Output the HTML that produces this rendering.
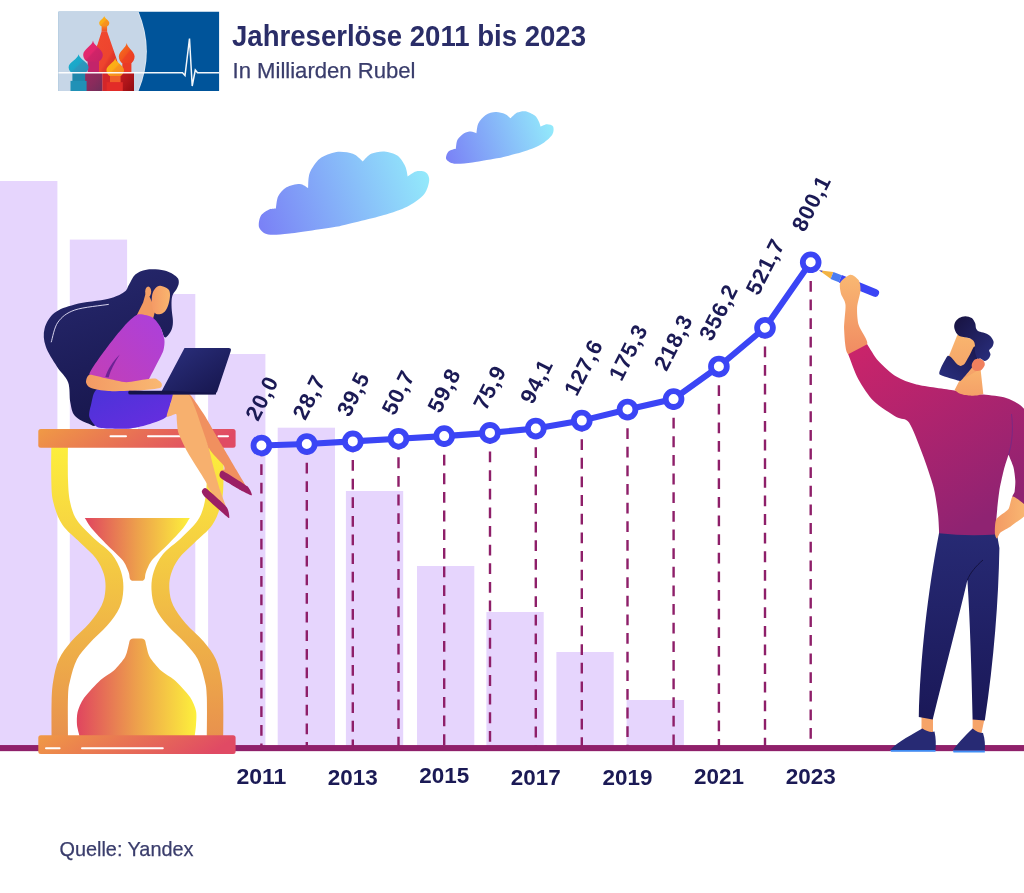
<!DOCTYPE html>
<html lang="de"><head><meta charset="utf-8"><title>Jahreserlöse 2011 bis 2023</title>
<style>
html,body{margin:0;padding:0;background:#fff}
body{width:1024px;height:893px;overflow:hidden;font-family:"Liberation Sans",sans-serif}
svg{display:block}
text{font-family:"Liberation Sans",sans-serif}
</style></head><body>
<svg width="1024" height="893" viewBox="0 0 1024 893">
<defs>
<linearGradient id="gCloud1" gradientUnits="userSpaceOnUse" x1="262" y1="228" x2="428" y2="172"><stop offset="0" stop-color="#7a82f6"/><stop offset="1" stop-color="#93eafb"/></linearGradient>
<linearGradient id="gCloud2" gradientUnits="userSpaceOnUse" x1="447" y1="160" x2="552" y2="124"><stop offset="0" stop-color="#7a82f6"/><stop offset="1" stop-color="#93eafb"/></linearGradient>
<linearGradient id="gGlass" x1="0" y1="0" x2="0" y2="1"><stop offset="0" stop-color="#fdf03c"/><stop offset="0.5" stop-color="#f2c244"/><stop offset="1" stop-color="#e8904e"/></linearGradient>
<linearGradient id="gSand" x1="0" y1="0" x2="1" y2="0"><stop offset="0" stop-color="#e0455f"/><stop offset="0.5" stop-color="#eda04c"/><stop offset="1" stop-color="#fdf03c"/></linearGradient>
<linearGradient id="gPlate" x1="0" y1="0" x2="1" y2="0.15"><stop offset="0" stop-color="#f09a45"/><stop offset="1" stop-color="#e04a64"/></linearGradient>
<linearGradient id="gHair" x1="0" y1="0" x2="0.3" y2="1"><stop offset="0" stop-color="#27296f"/><stop offset="1" stop-color="#18174e"/></linearGradient>
<linearGradient id="gTop" x1="0" y1="1" x2="1" y2="0"><stop offset="0" stop-color="#c43fb4"/><stop offset="1" stop-color="#ab40dc"/></linearGradient>
<linearGradient id="gSkirt" x1="0" y1="0" x2="1" y2="1"><stop offset="0" stop-color="#4a33d8"/><stop offset="1" stop-color="#6a2de0"/></linearGradient>
<linearGradient id="gSkin" x1="0" y1="0" x2="0" y2="1"><stop offset="0" stop-color="#f9b872"/><stop offset="1" stop-color="#f08b62"/></linearGradient>
<linearGradient id="gSkinH" x1="0" y1="0" x2="1" y2="0"><stop offset="0" stop-color="#f39a64"/><stop offset="1" stop-color="#f9b872"/></linearGradient>
<linearGradient id="gFace" x1="0" y1="0" x2="1" y2="0"><stop offset="0" stop-color="#f59a66"/><stop offset="1" stop-color="#f9b56e"/></linearGradient>
<linearGradient id="gFaceM" x1="0" y1="0" x2="0" y2="1"><stop offset="0" stop-color="#f9b56e"/><stop offset="1" stop-color="#f4a068"/></linearGradient>
<linearGradient id="gLaptop" x1="0" y1="0" x2="1" y2="1"><stop offset="0" stop-color="#2c3180"/><stop offset="1" stop-color="#15144a"/></linearGradient>
<linearGradient id="gShirt" x1="0" y1="0" x2="0.6" y2="1"><stop offset="0" stop-color="#cc246a"/><stop offset="1" stop-color="#8f2372"/></linearGradient>
<linearGradient id="gPants" x1="0" y1="0" x2="0" y2="1"><stop offset="0" stop-color="#272a74"/><stop offset="1" stop-color="#1a1858"/></linearGradient>
<linearGradient id="gBeard" x1="0" y1="1" x2="1" y2="0"><stop offset="0" stop-color="#2a2f80"/><stop offset="1" stop-color="#1a184f"/></linearGradient>
<linearGradient id="gMHair" x1="0" y1="0" x2="1" y2="1"><stop offset="0" stop-color="#17123f"/><stop offset="1" stop-color="#2a2f80"/></linearGradient>
<clipPath id="logoClip"><rect x="58.3" y="11.5" width="161" height="79.6"/></clipPath>
</defs>
<rect width="1024" height="893" fill="#fff"/>
<rect x="0" y="181" width="57.4" height="567" fill="#e6d5fd"/>
<rect x="69.8" y="239.6" width="57.3" height="508.4" fill="#e6d5fd"/>
<rect x="138" y="294" width="57.3" height="454" fill="#e6d5fd"/>
<rect x="208.1" y="354" width="57.3" height="394" fill="#e6d5fd"/>
<rect x="277.7" y="427.7" width="57.3" height="320.3" fill="#e6d5fd"/>
<rect x="345.9" y="491" width="57.3" height="257" fill="#e6d5fd"/>
<rect x="417" y="566" width="57.3" height="182" fill="#e6d5fd"/>
<rect x="486.4" y="612" width="57.3" height="136" fill="#e6d5fd"/>
<rect x="556.4" y="652" width="57.3" height="96" fill="#e6d5fd"/>
<rect x="626.6" y="700" width="57.3" height="48" fill="#e6d5fd"/>
<path d="M339.6 226.2C332.1 227.3 300.5 232.2 289.8 233.5C279.1 234.7 272.8 235.3 268.2 234.5C263.6 233.6 260.4 230.6 259.3 227.8C258.1 225.1 259.2 218.9 260.6 216.2C261.9 213.5 265.9 211 268.2 209.9C270.5 208.7 274.7 208.8 275.9 208.6C276.2 206.7 276.6 199.5 278.2 196.3C279.8 193.1 283.2 189.2 286.5 187.3C289.7 185.5 296.5 183.9 299.8 184C303 184.1 306.8 187.4 308.1 188C308.3 185.7 308 177.4 309.7 173C311.5 168.7 315.7 161.9 319.7 158.8C323.7 155.6 331.3 152.9 336.3 152.1C341.3 151.4 348.9 152.4 352.9 153.8C356.9 155.2 361.3 160.3 362.8 161.4C364.1 160.3 367.9 155.3 371.1 153.8C374.4 152.3 380.4 151.2 384.4 151.5C388.4 151.8 394.6 153.5 397.7 155.8C400.8 158 403.8 163.3 405.3 166.4C406.8 169.5 407.3 174.9 407.7 176.4C408.9 175.6 413.2 172 416 171.4C418.7 170.8 423.9 171 425.9 172.4C427.9 173.7 429.5 177.1 429.2 180.3C429 183.6 427.3 190.2 424.3 194C421.3 197.7 415 202.5 409.3 205.6C403.6 208.7 396.5 211.5 386.1 214.5C375.6 217.6 346.6 224.4 339.6 226.2Z" fill="url(#gCloud1)"/>
<path d="M499 158.1C495 158.7 479.1 161.6 472.4 162.4C465.7 163.3 458.1 164.2 454.1 163.7C450.2 163.2 447 160.9 446.2 159.1C445.3 157.3 447.1 153 448.5 151.5C449.9 149.9 454.7 149.2 455.8 148.8C456.1 147.5 456.2 142.2 457.5 139.8C458.7 137.5 462.1 134.4 464.1 133.2C466.1 132 468.9 131.5 470.7 131.5C472.6 131.5 475.5 133 476.4 133.2C476.7 131.7 477 126 478.4 123.2C479.8 120.5 483.1 116.6 485.7 114.9C488.3 113.2 492.8 112.1 495.6 112C498.5 111.8 502.7 113 504.9 113.9C507.2 114.9 509.7 117.6 510.6 118.3C511.6 117.4 515 113.7 517.2 112.6C519.5 111.6 522.9 110.8 525.5 111.3C528.2 111.7 532.8 114.1 534.8 115.6C536.8 117.1 538 119.9 538.8 121.6C539.7 123.2 540.2 125.8 540.5 126.6C541.5 126.2 545.2 124.2 547.1 124.2C549 124.2 552.3 125 553.1 126.6C553.8 128.2 554 132.1 552.1 134.9C550.2 137.6 544.9 142.2 540.5 144.8C536 147.4 528.4 150.1 522.2 152.1C516 154.1 502.5 157.2 499 158.1Z" fill="url(#gCloud2)"/>
<rect x="0" y="745.05" width="1024" height="6.1" fill="#8f206a"/>
<path d="M51.4 440C51.4 446.7 51 469.6 51.3 480C51.6 490.4 51.5 494.9 53.4 502.4C55.2 509.9 57.9 518.1 62.4 524.8C66.9 531.5 74.7 537.1 80.3 542.7C85.9 548.3 92.1 553.2 96 558.4C99.9 563.6 102.2 568.9 103.8 574.1C105.4 579.3 105.8 584.5 105.4 589.7C105 594.9 104.3 599.8 101.6 605.4C98.9 611 94.3 617.3 89.3 623.3C84.3 629.3 76.5 635.3 71.4 641.3C66.4 647.3 62 652.8 59 659.2C56 665.7 54.6 673 53.4 680C52.2 687 51.9 691.2 51.6 701.2C51.3 711.2 51.6 733.5 51.6 740L223.2 740C223.2 733.5 223.5 711.2 223.2 701.2C222.9 691.2 222.6 687 221.4 680C220.2 673 218.8 665.7 215.8 659.2C212.8 652.8 208.5 647.3 203.4 641.3C198.3 635.3 190.5 629.3 185.5 623.3C180.5 617.3 175.9 611 173.2 605.4C170.5 599.8 169.8 594.9 169.4 589.7C169 584.5 169.4 579.3 171 574.1C172.6 568.9 174.9 563.6 178.8 558.4C182.7 553.2 188.9 548.3 194.5 542.7C200.1 537.1 207.9 531.5 212.4 524.8C216.9 518.1 219.6 509.9 221.4 502.4C223.2 494.9 223.2 490.4 223.5 480C223.8 469.6 223.4 446.7 223.4 440Z" fill="url(#gGlass)"/>
<path d="M68 440C68 446.7 67.6 469.6 68 480C68.4 490.4 68.7 495.7 70.2 502.4C71.7 509.1 73.1 514.3 77 520.3C80.9 526.3 88 532.6 93.8 538.2C99.6 543.8 107.2 548.3 111.7 553.9C116.2 559.5 119.2 565.8 121.1 571.8C123 577.8 123.6 583.7 123.3 589.7C123 595.7 122.2 601.7 119.5 607.7C116.8 613.7 112.2 619.6 107.2 625.6C102.2 631.6 94.3 637.9 89.3 643.5C84.3 649.1 80.2 653.1 77 659.2C73.8 665.3 71.7 673.7 70.2 680C68.7 686.3 68.4 687 68 697C67.6 707 68 732.8 68 740L206.8 740C206.8 732.8 207.2 707 206.8 697C206.4 687 206.1 686.3 204.6 680C203.1 673.7 201 665.3 197.8 659.2C194.6 653.1 190.5 649.1 185.5 643.5C180.5 637.9 172.6 631.6 167.6 625.6C162.6 619.6 158 613.7 155.3 607.7C152.6 601.7 151.8 595.7 151.5 589.7C151.2 583.7 151.8 577.8 153.7 571.8C155.6 565.8 158.6 559.5 163.1 553.9C167.7 548.3 175.2 543.8 181 538.2C186.8 532.6 193.9 526.3 197.8 520.3C201.7 514.3 203.1 509.1 204.6 502.4C206.1 495.7 206.4 490.4 206.8 480C207.2 469.6 206.8 446.7 206.8 440Z" fill="#fff"/>
<path d="M84.8 518.1C85.7 519.4 88.5 524.6 91.5 528.2C94.5 531.8 103 540.7 107.2 545C111.4 549.3 120.1 557 122.9 560.6C125.7 564.2 127.6 569.6 128.5 571.8C129.4 574 129.5 576.7 129.6 577.4Q130 580.8 133.5 580.8L141.2 580.8Q144.6 580.8 145 577.4C145.1 576.7 145.2 574 146.1 571.8C147 569.6 148.9 564.2 151.7 560.6C154.5 557 163.2 549.3 167.4 545C171.6 540.7 180.1 531.8 183.1 528.2C186.1 524.6 188.9 519.4 189.8 518.1Z" fill="url(#gSand)"/>
<path d="M79.8 737C79.4 735.4 77.3 728.3 77 725C76.7 721.7 76.7 715.6 77.6 712C78.5 708.4 80.9 702.3 84 698C87.1 693.7 96.5 683.7 100.5 680C104.5 676.3 110.6 673.5 113.9 670.4C117.2 667.3 123.2 660.2 125.1 656.9C127 653.6 127.9 647.7 128.5 645.7C129.1 643.7 129.2 642.5 129.3 642Q129.8 638.4 133.5 638.4L141.3 638.4Q145 638.4 145.5 642C145.6 642.5 145.7 643.7 146.3 645.7C146.9 647.7 147.8 653.6 149.7 656.9C151.6 660.2 157.6 667.3 160.9 670.4C164.2 673.5 170.5 676.5 174.4 680C178.3 683.5 187.1 692.9 190 697C192.9 701.1 195.2 707.3 196 711C196.8 714.7 196.2 721.5 196 725C195.8 728.5 194.8 735.4 194.6 737Z" fill="url(#gSand)"/>
<rect x="38.3" y="428.9" width="197.3" height="18.8" rx="2.5" fill="url(#gPlate)"/>
<path d="M110.5 436.3H126M148 436.3H182M218.5 436.3H228" stroke="#fff" stroke-width="2" stroke-linecap="round"/>
<rect x="38.3" y="735.2" width="197.3" height="18.8" rx="2.5" fill="url(#gPlate)"/>
<path d="M46 748.2H59.6M82 748.2H162.8" stroke="#fff" stroke-width="2" stroke-linecap="round"/>
<path d="M135.3 274.6C138.2 272.1 141.6 270.4 146.5 269.7C151.4 269 159.4 269.4 164.4 270.6C169.5 271.8 174.4 274.9 176.7 276.9C179.1 278.9 178.8 280.7 178.8 282.7C178.7 284.8 177.5 287.3 176.5 289.2C175.5 291.1 173.8 292.5 172.9 294.4C172.1 296.2 171.8 297.7 171.6 300.4C171.4 303.1 171.6 307.1 171.8 310.5C172 313.8 172.9 317.6 172.9 320.6C173 323.6 172.8 326.1 172 328.4C171.3 330.8 169.7 333.2 168.5 334.7C167.2 336.1 165.8 338.4 164.4 337.1C163 335.9 162.2 329.5 159.9 327.3C157.7 325.1 155.8 321.1 151 323.9C146.1 326.7 138.7 334 130.8 344.1C123 354.2 109.5 371.4 103.9 384.4C98.3 397.5 99.8 416 97.2 422.5C94.6 429 92 424.7 88.2 423.6C84.5 422.5 77.8 419.3 74.8 415.8C71.8 412.2 71.4 407.9 70.3 402.3C69.2 396.7 70.3 388.2 68.1 382.2C65.8 376.2 60.6 372.5 56.9 366.5C53.2 360.5 47.7 352.7 45.7 346.3C43.6 340 43.1 334 44.6 328.4C46.1 322.8 49.6 316.7 54.6 312.7C59.7 308.7 65.8 306.8 74.8 304.4C83.8 302.1 100.2 300.9 108.4 298.8C116.6 296.8 120.7 294.5 124.1 292.1C127.5 289.8 127.2 287.6 129 284.7C130.9 281.8 132.4 277.1 135.3 274.6Z" fill="url(#gHair)"/>
<path d="M108.4 304.4C102.8 305.4 83.2 307.1 74.8 310C66.4 313 61.9 316.8 58 322.1C54.1 327.4 52.4 338.6 51.3 341.9" fill="none" stroke="#e9e4fa" stroke-width="0.9" stroke-linecap="round"/>
<path d="M146.5 290.3L143.1 302.6L136.4 316.1L153.2 318.3L155.5 309.4Z" fill="#f29a62"/>
<ellipse cx="148.2" cy="291.6" rx="3" ry="5.2" fill="#f4a066"/>
<path d="M155.4 288.2C156.8 286.8 158.2 285.5 160.4 285.7C162.6 285.9 166.7 287.6 168.3 289.2C169.9 290.8 170 292.8 170 295.3C170 297.8 169.3 301.6 168.5 304.3C167.7 307 166.4 309.8 164.9 311.4C163.4 313 161.2 314 159.4 314.2C157.6 314.4 155.6 314 154.3 312.4C153 310.8 152.1 307.3 151.8 304.3C151.5 301.3 151.7 297 152.3 294.3C152.9 291.6 154.1 289.6 155.4 288.2Z" fill="url(#gFace)"/>
<path d="M98 388.5C103.2 386.5 119.9 389.2 130 390C140.1 390.8 168.5 392.9 174 394.5C179.5 396.1 172 399.1 171 402C170 404.9 169.6 413.6 166.8 416.5C164 419.4 154.8 422.4 150 424C145.2 425.6 136.1 427.8 130.8 428.4C125.5 429 114.5 428.7 110 428.5C105.5 428.3 99.9 428.5 97.2 427C94.5 425.5 90.2 419.9 89.4 417C88.6 414.1 89.9 408.8 91 405C92.1 401.2 92.8 390.5 98 388.5Z" fill="url(#gSkirt)"/>
<path d="M186 393C186.5 393.3 189.3 393.7 191.2 396C193.1 398.3 201.8 410.8 204.8 415.7C207.8 420.6 218.2 439.1 221.4 444.5C224.6 449.9 234.2 466.1 236.6 470.2C239 474.3 244.1 482.9 245.6 485.3C247.1 487.7 251.1 493.5 251.7 494.4L240 488C238.1 486.4 223 473.6 221.4 471.7C219.8 469.8 224.3 470 224.5 469.4C224.7 468.8 224.6 466.9 223.7 465.6C222.8 464.3 216.9 458.4 215.4 456.6C213.9 454.8 210.3 451.2 208.6 447.5C206.9 443.8 199.1 422.8 198 420Z" fill="#f0905f"/>
<path d="M219.6 474C219.8 473.2 220.2 469.7 222.9 470.9C225.7 472.1 244.2 483.7 247.1 486.1C250 488.5 252.3 494.8 251.9 495.3C251.5 495.8 245.7 493 242.6 491.3C239.5 489.6 223.7 480.2 221.4 478.5C219.1 476.8 219.4 474.8 219.6 474Z" fill="#9b1f64"/>
<path d="M173 394C174.5 394 185.9 392.4 188.2 394C190.5 395.6 194.3 406.2 195.7 409.7C197.1 413.2 201.2 425.5 202.5 429.3C203.8 433.1 207.5 443.6 208.6 447.5C209.7 451.4 212.8 464.5 213.9 468.7C215 472.9 218.7 486 219.9 489.8C221.1 493.6 225.4 504.8 226 506.5L215 497C214.3 496 208.6 488.1 207.8 486.8C207 485.5 208 485.5 207.1 483.8C206.2 482.1 200.8 473.5 198.7 470.2C196.6 466.9 188.6 454.3 186.6 450.5C184.6 446.7 179.3 435.4 178.3 432.4C177.3 429.4 177 422.1 176.8 420.3C176.6 418.5 177 414.4 176 414C175 413.6 167.3 417.7 166.8 416.5C166.3 415.3 170.6 403.3 171 401.8Z" fill="#f7b06e"/>
<path d="M201.8 491.3C201.8 490.5 203.5 488.5 204 488.3C204.5 488.1 204.8 487.2 207.1 489.1C209.4 491 224.5 504.3 226.7 507.2C228.9 510.1 229.6 517.5 229.2 518C228.8 518.5 224.7 514.7 222.2 512.5C219.7 510.3 206 498 204 495.9C202 493.8 201.8 492.1 201.8 491.3Z" fill="#9b1f64"/>
<path d="M137.5 314.5C140.8 313.4 149.5 315.8 152.1 317.2C154.7 318.6 158.6 323.6 160 326.2C161.4 328.8 164 336.7 164.4 339.6C164.8 342.5 164.3 347.7 163.3 350.8C162.3 353.9 157.3 363 155.5 366.5C153.7 370 149.3 378.4 148 381C146.7 383.6 149.7 387.7 144 388.5C138.3 389.3 104.1 388.5 99 388C93.9 387.5 101.1 385.6 100 384C98.9 382.4 88.7 378.4 89.4 374.3C90.1 370.2 102.2 354.2 106.2 348.6C110.2 343 120.4 330.2 124.1 326.2C127.8 322.2 134.2 315.6 137.5 314.5Z" fill="url(#gTop)"/>
<path d="M119.8 354.5C113 361 107.5 369.5 105.3 377L108.6 377.6C110.5 370.5 114.5 362.5 119.8 354.5Z" fill="#5e1f8c" opacity="0.85"/>
<path d="M89.4 374.8C87.1 375.3 85.9 380.7 86 382.2C86.1 383.7 87.9 386.8 90.5 387.8C93.1 388.8 102.4 390.8 108.4 391.1C114.4 391.4 136 390.6 142 390.2C148 389.8 157.7 388.8 160 388C162.3 387.2 162 384.4 161.5 383.3C161 382.2 157.2 379.1 155.5 378.6C153.8 378.1 149.9 378.9 146.5 379.3C143.1 379.7 131 382.3 126.3 382.2C121.6 382.1 110.3 379.2 106 378.3C101.7 377.4 91.7 374.3 89.4 374.8Z" fill="url(#gSkinH)"/>
<path d="M184.5 347.9H228.5Q231.8 347.9 230.7 351.2L217.2 391.5Q216.3 394.2 213.3 394.2H160Z" fill="url(#gLaptop)"/>
<path d="M129.5 390.8H168L216 393V394.6H130.5Q128.2 394.6 128.2 392.7Q128.2 390.8 129.5 390.8Z" fill="#15144a"/>
<path d="M261.4 445.5V746" stroke="#8e1f69" stroke-width="2.4" stroke-dasharray="10.8 7.83" fill="none"/>
<path d="M306.8 444V746" stroke="#8e1f69" stroke-width="2.4" stroke-dasharray="10.8 7.83" fill="none"/>
<path d="M352.8 441.4V746" stroke="#8e1f69" stroke-width="2.4" stroke-dasharray="10.8 7.83" fill="none"/>
<path d="M398.5 438.7V746" stroke="#8e1f69" stroke-width="2.4" stroke-dasharray="10.8 7.83" fill="none"/>
<path d="M444.2 436.1V746" stroke="#8e1f69" stroke-width="2.4" stroke-dasharray="10.8 7.83" fill="none"/>
<path d="M490 432.9V746" stroke="#8e1f69" stroke-width="2.4" stroke-dasharray="10.8 7.83" fill="none"/>
<path d="M535.8 428.5V746" stroke="#8e1f69" stroke-width="2.4" stroke-dasharray="10.8 7.83" fill="none"/>
<path d="M581.8 420.6V746" stroke="#8e1f69" stroke-width="2.4" stroke-dasharray="10.8 7.83" fill="none"/>
<path d="M627.5 409.5V746" stroke="#8e1f69" stroke-width="2.4" stroke-dasharray="10.8 7.83" fill="none"/>
<path d="M673.6 399.1V746" stroke="#8e1f69" stroke-width="2.4" stroke-dasharray="10.8 7.83" fill="none"/>
<path d="M718.9 366.5V746" stroke="#8e1f69" stroke-width="2.4" stroke-dasharray="10.8 7.83" fill="none"/>
<path d="M765 327.8V746" stroke="#8e1f69" stroke-width="2.4" stroke-dasharray="10.8 7.83" fill="none"/>
<path d="M810.7 262.3V746" stroke="#8e1f69" stroke-width="2.4" stroke-dasharray="10.8 7.83" fill="none"/>
<path d="M261.4 445.5L306.8 444L352.8 441.4L398.5 438.7L444.2 436.1L490 432.9L535.8 428.5L581.8 420.6L627.5 409.5L673.6 399.1L718.9 366.5L765 327.8L810.7 262.3" fill="none" stroke="#3b45f5" stroke-width="6.1" stroke-linejoin="round"/>
<circle cx="261.4" cy="445.5" r="7.9" fill="#fff" stroke="#3b45f5" stroke-width="5.8"/>
<circle cx="306.8" cy="444" r="7.9" fill="#fff" stroke="#3b45f5" stroke-width="5.8"/>
<circle cx="352.8" cy="441.4" r="7.9" fill="#fff" stroke="#3b45f5" stroke-width="5.8"/>
<circle cx="398.5" cy="438.7" r="7.9" fill="#fff" stroke="#3b45f5" stroke-width="5.8"/>
<circle cx="444.2" cy="436.1" r="7.9" fill="#fff" stroke="#3b45f5" stroke-width="5.8"/>
<circle cx="490" cy="432.9" r="7.9" fill="#fff" stroke="#3b45f5" stroke-width="5.8"/>
<circle cx="535.8" cy="428.5" r="7.9" fill="#fff" stroke="#3b45f5" stroke-width="5.8"/>
<circle cx="581.8" cy="420.6" r="7.9" fill="#fff" stroke="#3b45f5" stroke-width="5.8"/>
<circle cx="627.5" cy="409.5" r="7.9" fill="#fff" stroke="#3b45f5" stroke-width="5.8"/>
<circle cx="673.6" cy="399.1" r="7.9" fill="#fff" stroke="#3b45f5" stroke-width="5.8"/>
<circle cx="718.9" cy="366.5" r="7.9" fill="#fff" stroke="#3b45f5" stroke-width="5.8"/>
<circle cx="765" cy="327.8" r="7.9" fill="#fff" stroke="#3b45f5" stroke-width="5.8"/>
<circle cx="810.7" cy="262.3" r="7.9" fill="#fff" stroke="#3b45f5" stroke-width="5.8"/>
<text transform="translate(258.1 422.2) rotate(-63)" font-size="22" font-weight="700" letter-spacing="0.9" fill="#1b1a55">20,0</text>
<text transform="translate(305.2 421.2) rotate(-63)" font-size="22" font-weight="700" letter-spacing="0.9" fill="#1b1a55">28,7</text>
<text transform="translate(349.4 418.1) rotate(-63)" font-size="22" font-weight="700" letter-spacing="0.9" fill="#1b1a55">39,5</text>
<text transform="translate(394.4 416.4) rotate(-63)" font-size="22" font-weight="700" letter-spacing="0.9" fill="#1b1a55">50,7</text>
<text transform="translate(440.3 414.3) rotate(-63)" font-size="22" font-weight="700" letter-spacing="0.9" fill="#1b1a55">59,8</text>
<text transform="translate(485.9 411.6) rotate(-63)" font-size="22" font-weight="700" letter-spacing="0.9" fill="#1b1a55">75,9</text>
<text transform="translate(532.7 405.2) rotate(-63)" font-size="22" font-weight="700" letter-spacing="0.9" fill="#1b1a55">94,1</text>
<text transform="translate(576.7 397.3) rotate(-63)" font-size="22" font-weight="700" letter-spacing="0.9" fill="#1b1a55">127,6</text>
<text transform="translate(621.4 382.2) rotate(-63)" font-size="22" font-weight="700" letter-spacing="0.9" fill="#1b1a55">175,3</text>
<text transform="translate(666.5 372.3) rotate(-63)" font-size="22" font-weight="700" letter-spacing="0.9" fill="#1b1a55">218,3</text>
<text transform="translate(711.8 342.2) rotate(-63)" font-size="22" font-weight="700" letter-spacing="0.9" fill="#1b1a55">356,2</text>
<text transform="translate(758.4 296.5) rotate(-63)" font-size="22" font-weight="700" letter-spacing="0.9" fill="#1b1a55">521,7</text>
<text transform="translate(804.6 233) rotate(-63)" font-size="22" font-weight="700" letter-spacing="0.9" fill="#1b1a55">800,1</text>
<text x="236.4" y="784" font-size="21.3" font-weight="700" fill="#1b1a55" textLength="50" lengthAdjust="spacingAndGlyphs">2011</text>
<text x="327.8" y="785.3" font-size="21.3" font-weight="700" fill="#1b1a55" textLength="50" lengthAdjust="spacingAndGlyphs">2013</text>
<text x="419.2" y="783.4" font-size="21.3" font-weight="700" fill="#1b1a55" textLength="50" lengthAdjust="spacingAndGlyphs">2015</text>
<text x="510.8" y="785" font-size="21.3" font-weight="700" fill="#1b1a55" textLength="50" lengthAdjust="spacingAndGlyphs">2017</text>
<text x="602.5" y="785" font-size="21.3" font-weight="700" fill="#1b1a55" textLength="50" lengthAdjust="spacingAndGlyphs">2019</text>
<text x="693.9" y="784" font-size="21.3" font-weight="700" fill="#1b1a55" textLength="50" lengthAdjust="spacingAndGlyphs">2021</text>
<text x="785.7" y="784" font-size="21.3" font-weight="700" fill="#1b1a55" textLength="50" lengthAdjust="spacingAndGlyphs">2023</text>
<g transform="translate(819 270.2) rotate(22)"><path d="M0 0L14 -3.6V3.6Z" fill="#f3b342"/><path d="M0 0L3.5 -0.9V0.9Z" fill="#3b45f5"/><rect x="14" y="-3.8" width="9" height="7.6" fill="#4a7df2"/><path d="M23 -4H60.5Q64.5 -4 64.5 0Q64.5 4 60.5 4H23Z" fill="#3b45f5"/></g>
<path d="M850.4 274.7C852.9 274.4 857.3 278.2 858.7 280.3C860 282.4 860.7 286.8 860.5 290.4C860.3 294 857.4 302.6 857.1 307.2C856.9 311.8 857.3 320.2 858.7 325.1C860 330.1 868.6 340.3 867.2 344.2C865.8 348 851.2 356.2 848.2 354.2C845.1 352.3 844.5 336.2 844.1 329.6C843.8 323 845.9 309.7 845.5 305C845.1 300.2 841.7 296.8 841 293.8C840.3 290.8 839.1 285.1 840.3 282.6C841.6 280 848 275 850.4 274.7Z" fill="url(#gSkin)"/>
<path d="M921.5 717H933V732H921.5Z" fill="#f6a469"/>
<path d="M972.6 719H984.5L981.5 733H972.6Z" fill="#f6a469"/>
<path d="M939.4 531Q968 533 996.4 531L997 534.4L999.4 548C998.5 600 994 660 984.8 720.6L972.6 719.6C971.5 670 970 620 967.4 580C958 620 945 670 932.7 719.6L918.8 717C920 660 928 590 939 533.3Z" fill="url(#gPants)"/>
<path d="M983 560C976 566 970 573 967.4 580" stroke="#14123f" stroke-width="1" fill="none"/>
<path d="M848.2 354.2C849.5 357.5 854.8 372.6 858.2 378.9C861.6 385.2 868.8 396.2 873.9 401.3C879 406.4 891.6 414.2 896.3 417C901 419.8 905.5 417.6 909 422.5C912.5 427.4 919.1 445.2 922.4 453.9C925.7 462.6 931.5 479.3 933.6 487.4C935.7 495.5 937.3 508.2 938 514.3C938.7 520.4 939 530.8 939.2 533.3Q968 536.5 996.2 534.4C996.2 532.3 996 524.5 996.4 518.8C996.8 513.1 998.2 498.1 999.2 491.7C1000.2 485.3 1002.4 475.7 1003.6 470.8C1004.8 465.9 1007.8 456.9 1008.5 454.8C1009.2 456.4 1012.5 463.7 1013.4 467.1C1014.3 470.5 1015.1 477.3 1015.3 480.6C1015.5 483.9 1014.9 489.4 1014.6 491.7C1014.3 494 1011.3 495.7 1012.8 497.9C1014.3 500.1 1024.2 506.7 1026 508L1030 508L1030 416C1028.8 414.6 1023.9 407.9 1020.7 405.5C1017.5 403.1 1011 399.4 1006.1 397.9C1001.2 396.4 988.8 395.2 983.7 394.6C978.6 394 971.9 394 968 393.5C964.1 393 961.5 391.7 954.6 390.5C947.7 389.3 924.3 386.4 916.5 384.5C908.7 382.6 901.4 379.7 896.3 376.6C891.2 373.5 882.3 365.3 878.4 361C874.5 356.7 868.7 346.4 867.2 344.2Z" fill="url(#gShirt)"/>
<path d="M1011.5 414C1013.5 430 1012 444 1008.5 454.8" stroke="#6b2a8a" stroke-width="1" fill="none" opacity="0.7"/>
<path d="M1012.8 496.5C1011 496.8 1010.2 506.7 1008.5 509C1006.8 511.3 997.6 516.9 996.2 519.4C994.8 521.9 994.8 531.7 994.9 533.6C995 535.5 996.2 538.6 996.8 538.5C997.4 538.4 999.1 533.6 1000.5 532.4C1001.9 531.2 1008.5 528 1011 526.2C1013.5 524.4 1024.5 516.5 1026 514.5C1027.5 512.5 1027.3 507.8 1026 506C1024.7 504.2 1014.5 496.2 1012.8 496.5Z" fill="url(#gSkinH)"/>
<path d="M961.2 377.3L954.6 390.1C955.3 390.6 958.1 393.1 960.1 393.8C962.1 394.6 967.3 395.5 969.7 395.6C972.1 395.8 976.4 395.4 978.2 395.2C980 395 982.6 394.3 983.3 394.1L980.3 366.7Z" fill="url(#gFaceM)"/>
<path d="M957.4 334.8L975 340.1L977.1 349.7L980.9 368.8L961.2 380L948.9 356.1Z" fill="url(#gFaceM)"/>
<path d="M947.6 356.1C948.5 355.2 950.1 356.5 951.1 357.3C952 358.1 956 363.2 956.9 364C957.9 364.9 959.9 365.9 960.6 365.9C961.4 365.9 963.5 365.1 964.4 364C965.3 363 968.7 356.8 969.7 355C970.7 353.2 973.3 347 974.1 346.5C975 346 977.9 348.3 978.2 349.7C978.4 351.1 977.2 358.5 976.6 360.3C976 362.1 973.3 365.9 971.8 367.8C970.4 369.7 963.3 378.2 962 379.5C960.7 380.8 961.1 381.2 959 380.7C957 380.3 943.1 376 941.2 375.2C939.2 374.4 939.2 373.8 939.3 372.9C939.3 371.9 941.2 367.3 942 365.6C942.9 364 946.6 356.9 947.6 356.1Z" fill="url(#gBeard)"/>
<path d="M971.8 364.6C972.1 363.2 973.3 360.7 974.5 359.8C975.7 358.9 978.4 358.3 979.8 358.5C981.2 358.8 983.3 360.3 984 361.4C984.8 362.5 985 364.4 984.6 365.6C984.2 366.9 982.7 369.1 981.4 369.9C980.1 370.7 977.4 371.1 976.1 371C974.7 370.8 973.2 369.8 972.6 368.8C971.9 367.9 971.5 365.9 971.8 364.6Z" fill="#f0805e"/>
<path d="M954.3 327.9C954 326.3 954.3 323.9 955 322.6C955.7 321.2 957.6 319 959 318.1C960.5 317.2 963.6 316.2 965.4 316.2C967.2 316.2 970.4 317.1 971.8 318.1C973.2 319.1 974.6 321.8 975.2 323.3C975.8 324.8 975.6 327.7 976.2 328.8C976.7 330 977.9 331 979 331.6C980.2 332.2 983 332.3 984.6 333C986.2 333.6 989.2 334.9 990.4 336.2C991.7 337.4 993.4 340.2 993.6 341.7C993.9 343.2 992.9 345.8 992.2 347C991.6 348.2 989.4 349.2 989.1 350.2C988.9 351.3 990.6 353.3 990.5 354.5C990.4 355.7 989.3 357.9 988.5 358.8C987.7 359.8 985.9 361.1 984.8 361.1C983.7 361 981.9 359.1 980.9 358.7C979.8 358.3 977.9 359.2 977.1 358.2C976.3 357.2 975.3 353.5 975 351.8C974.7 350.1 975.1 347.4 975 346C974.9 344.5 974.7 342.5 973.9 341.4C973.2 340.3 971.6 339 969.7 338.3C967.7 337.6 961.9 336.8 960.1 336.2C958.3 335.5 957.5 334.7 956.7 333.5C955.9 332.3 954.5 329.4 954.3 327.9Z" fill="url(#gMHair)"/>
<path d="M890.4 750C895 744 905 738.5 922.3 728.5C927 731.5 931 732.5 934.5 731.5C936 738 936 745 935.5 750Z" fill="#272a74"/>
<path d="M890.4 750H935.5V751.8H891Z" fill="#3f8ef5"/>
<path d="M952.9 750.6C957 744 964 737 972.6 728.5C976 731.5 980 733 983 733C985 739 985.2 745 984.8 750.6Z" fill="#272a74"/>
<path d="M952.9 750.6H984.8V752.4H953.5Z" fill="#3f8ef5"/>
<g clip-path="url(#logoClip)">
<rect x="58.3" y="11.5" width="161" height="79.6" fill="#00549a"/>
<path d="M58.3 11.5H138.5Q155.2 51.3 138.5 91.1H58.3Z" fill="#dfe8f2"/>
<path d="M58.3 11.5H137.6Q154.3 51.3 137.6 91.1H58.3Z" fill="#c6d6e7"/>
<defs><linearGradient id="lgT" x1="0" y1="0" x2="1" y2="1"><stop offset="0" stop-color="#19b1cf"/><stop offset="0.5" stop-color="#1ba6c8"/><stop offset="0.56" stop-color="#2b97bd"/><stop offset="1" stop-color="#2b8fb8"/></linearGradient><linearGradient id="lgP" x1="0" y1="0" x2="1" y2="1"><stop offset="0" stop-color="#e8286f"/><stop offset="0.5" stop-color="#e2276d"/><stop offset="0.56" stop-color="#d02468"/><stop offset="1" stop-color="#c42366"/></linearGradient><linearGradient id="lgO" x1="0" y1="0" x2="1" y2="1"><stop offset="0" stop-color="#f8761c"/><stop offset="0.5" stop-color="#f2561f"/><stop offset="0.56" stop-color="#ee4423"/><stop offset="1" stop-color="#ea3a24"/></linearGradient><linearGradient id="lgY" x1="0" y1="0" x2="1" y2="1"><stop offset="0" stop-color="#fdb515"/><stop offset="0.5" stop-color="#fbab18"/><stop offset="0.56" stop-color="#f7961d"/><stop offset="1" stop-color="#f58a1f"/></linearGradient><linearGradient id="lgR" x1="0" y1="0" x2="1" y2="1"><stop offset="0" stop-color="#f04a2f"/><stop offset="0.55" stop-color="#ee442e"/><stop offset="0.62" stop-color="#e2392b"/><stop offset="1" stop-color="#d42e29"/></linearGradient><linearGradient id="lgN" x1="0" y1="0" x2="0" y2="1"><stop offset="0" stop-color="#f68a22"/><stop offset="1" stop-color="#ee4a2c"/></linearGradient><linearGradient id="lgDR" x1="0" y1="0" x2="1" y2="1"><stop offset="0" stop-color="#c31c20"/><stop offset="0.5" stop-color="#ad1419"/><stop offset="1" stop-color="#8e0b10"/></linearGradient><linearGradient id="lgDP" x1="0" y1="0" x2="1" y2="1"><stop offset="0" stop-color="#9a2a5e"/><stop offset="0.5" stop-color="#8a2b5c"/><stop offset="1" stop-color="#6e2f5a"/></linearGradient></defs>
<path d="M101.6 31.4H107.1L116.1 57.6L121 72.8H96V48L97.6 44.2Z" fill="url(#lgR)"/>
<rect x="101.6" y="25.5" width="5.5" height="6.2" fill="url(#lgN)"/>
<path d="M104.2 15.9C104.8 18.5 109.3 20.2 109.3 22.9C109.3 24.7 108 25.8 107.4 26.2H101.1C100.5 25.8 99.2 24.7 99.2 22.9C99.2 20.2 103.7 18.5 104.2 15.9Z" fill="url(#lgY)"/>
<rect x="87.6" y="60" width="11.4" height="13" fill="#c3246a"/>
<path d="M93 40.6C93.6 45.8 102.8 49.4 102.8 54.8C102.8 58.4 100.3 60.7 99 61.5H87C85.7 60.7 83.2 58.4 83.2 54.8C83.2 49.4 92.4 45.8 93 40.6Z" fill="url(#lgP)"/>
<rect x="122.3" y="61" width="9.1" height="12" fill="#ea3a26"/>
<path d="M126.7 43.1C127.3 48.1 134.6 51.5 134.6 56.6C134.6 60 132.6 62.2 131.6 63H121.8C120.8 62.2 118.8 60 118.8 56.6C118.8 51.5 126.1 48.1 126.7 43.1Z" fill="url(#lgO)"/>
<rect x="84.9" y="72.8" width="17.5" height="18.6" fill="url(#lgDP)"/>
<rect x="102.3" y="72.8" width="18.7" height="18.6" fill="#d3262a"/>
<rect x="120.9" y="72.8" width="13.1" height="18.6" fill="url(#lgDR)"/>
<rect x="72.4" y="72" width="12.8" height="9.2" fill="#1d86aa"/>
<rect x="70.5" y="80.9" width="16.1" height="10.5" fill="#2191b6"/>
<path d="M78.6 54.2C79.2 59 88.6 62.3 88.6 67.3C88.6 70.5 86.1 72.6 84.8 73.4H72.4C71.1 72.6 68.6 70.5 68.6 67.3C68.6 62.3 78 59 78.6 54.2Z" fill="url(#lgT)"/>
<rect x="110" y="75" width="10.4" height="7.6" fill="#f0602a"/>
<rect x="106.6" y="82.2" width="16.2" height="9.2" fill="#e22c28"/>
<path d="M115.2 58C115.8 62.5 124 65.6 124 70.2C124 73.3 121.8 75.3 120.6 76H109.7C108.6 75.3 106.4 73.3 106.4 70.2C106.4 65.6 114.6 62.5 115.2 58Z" fill="url(#lgY)"/>
<path d="M58.3 72.8H182.5L185 75.5L189.5 38.5L192.2 86L195.3 70L197.5 72.8H219.3" stroke="#fff" stroke-width="1.5" fill="none" stroke-linejoin="miter" opacity="0.95"/>
</g>
<text x="232" y="46" font-size="29.5" font-weight="700" fill="#2a2d68" textLength="354" lengthAdjust="spacingAndGlyphs">Jahreserlöse 2011 bis 2023</text>
<text x="232.5" y="78" font-size="22.3" fill="#3a3d6c" stroke="#3a3d6c" stroke-width="0.25" textLength="183" lengthAdjust="spacingAndGlyphs">In Milliarden Rubel</text>
<text x="59.5" y="856.1" font-size="21" fill="#3a3d6c" stroke="#3a3d6c" stroke-width="0.25" textLength="134" lengthAdjust="spacingAndGlyphs">Quelle: Yandex</text>
</svg>
</body></html>
